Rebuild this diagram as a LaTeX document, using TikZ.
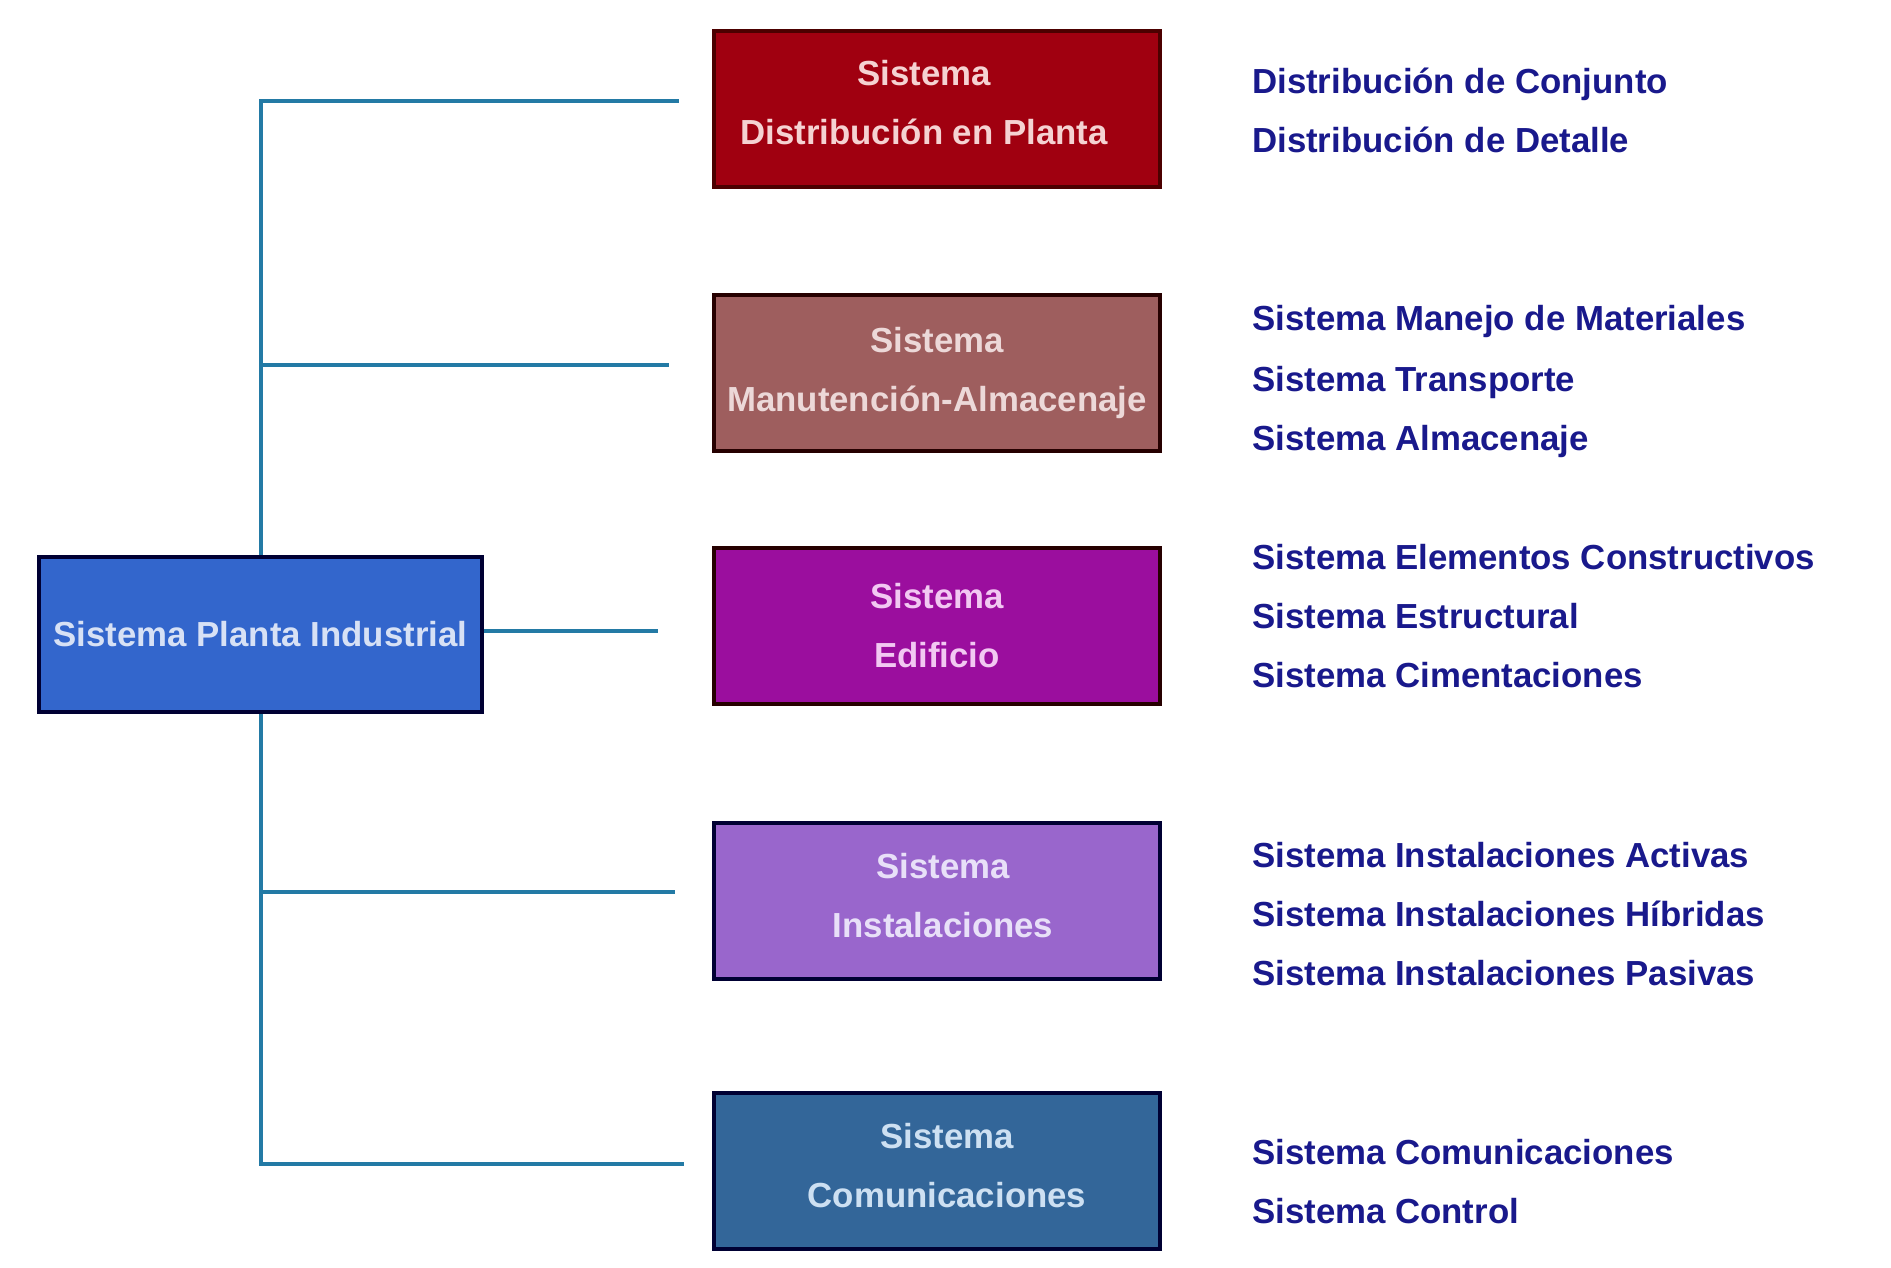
\documentclass[tikz,border=0pt]{standalone}
\usepackage{fontspec}
\setmainfont{Liberation Sans}
\definecolor{conn}{RGB}{35,122,165}
\definecolor{navy}{RGB}{25,25,140}
\definecolor{mainfill}{RGB}{51,102,204}
\definecolor{f1}{RGB}{160,0,16}
\definecolor{f2}{RGB}{158,94,94}
\definecolor{f3}{RGB}{155,14,158}
\definecolor{f4}{RGB}{153,102,204}
\definecolor{f5}{RGB}{51,102,153}
\definecolor{t0}{RGB}{215,225,245}
\definecolor{t1}{RGB}{245,210,210}
\definecolor{t2}{RGB}{236,216,216}
\definecolor{t3}{RGB}{242,200,242}
\definecolor{t4}{RGB}{232,224,248}
\definecolor{t5}{RGB}{205,224,242}
\begin{document}
\begin{tikzpicture}[x=1pt,y=-1pt,
  txt/.style={font=\bfseries\fontsize{34.8}{59}\selectfont},
  sysbox/.style={draw=black!85!red,line width=4pt,inner sep=0pt,
     minimum width=446pt,minimum height=156pt},
  boxtext/.style={txt,align=center,inner sep=0pt},
  item/.style={txt,text=navy,anchor=base west,inner sep=0pt},
  link/.style={draw=conn,line width=4pt}]
\useasboundingbox (0,0) rectangle (1891,1267);
\fill[white] (0,0) rectangle (1891,1267);

\node[sysbox,draw=black!80!blue,fill=mainfill,minimum width=443pt,minimum height=155pt] (main) at (260.5,634.5) {};
\node[boxtext,text=t0] (maint) at (main.center) {Sistema Planta Industrial};

\node[sysbox,fill=f1,draw=black!70!red] (b1) at (937,109) {};
\node[boxtext,text=t1,xshift=-13pt,yshift=6pt] (b1t) at (b1.center) {Sistema\\Distribución en Planta};
\node[sysbox,fill=f2] (b2) at (937,373) {};
\node[boxtext,text=t2] (b2t) at (b2.center) {Sistema\\Manutención-Almacenaje};
\node[sysbox,fill=f3] (b3) at (937,625.5) {};
\node[boxtext,text=t3] (b3t) at (b3.center) {Sistema\\Edificio};
\node[sysbox,fill=f4,draw=black!80!blue] (b4) at (937,900.5) {};
\node[boxtext,text=t4,xshift=6pt,yshift=5pt] (b4t) at (b4.center) {Sistema\\Instalaciones};
\node[sysbox,fill=f5,draw=black!80!blue] (b5) at (937,1171) {};
\node[boxtext,text=t5,xshift=10pt,yshift=5pt] (b5t) at (b5.center) {Sistema\\Comunicaciones};

\coordinate (c1) at (679,101);
\coordinate (c2) at (669,365);
\coordinate (c3) at (658,631);
\coordinate (c4) at (675,892);
\coordinate (c5) at (684,1164);

\draw[link] (main.north) |- (c1);
\draw[link] (main.north) |- (c2);
\draw[link] (main.east |- c3) -- (c3);
\draw[link] (main.south) |- (c4);
\draw[link] (main.south) |- (c5);

\node[item] (l11) at (1252,93) {Distribución de Conjunto};
\node[item] (l12) at (1252,152) {Distribución de Detalle};
\node[item] (l21) at (1252,330) {Sistema Manejo de Materiales};
\node[item] (l22) at (1252,391) {Sistema Transporte};
\node[item] (l23) at (1252,450) {Sistema Almacenaje};
\node[item] (l31) at (1252,569) {Sistema Elementos Constructivos};
\node[item] (l32) at (1252,628) {Sistema Estructural};
\node[item] (l33) at (1252,687) {Sistema Cimentaciones};
\node[item] (l41) at (1252,867) {Sistema Instalaciones Activas};
\node[item] (l42) at (1252,926) {Sistema Instalaciones Híbridas};
\node[item] (l43) at (1252,985) {Sistema Instalaciones Pasivas};
\node[item] (l51) at (1252,1164) {Sistema Comunicaciones};
\node[item] (l52) at (1252,1223) {Sistema Control};
\end{tikzpicture}
\end{document}
